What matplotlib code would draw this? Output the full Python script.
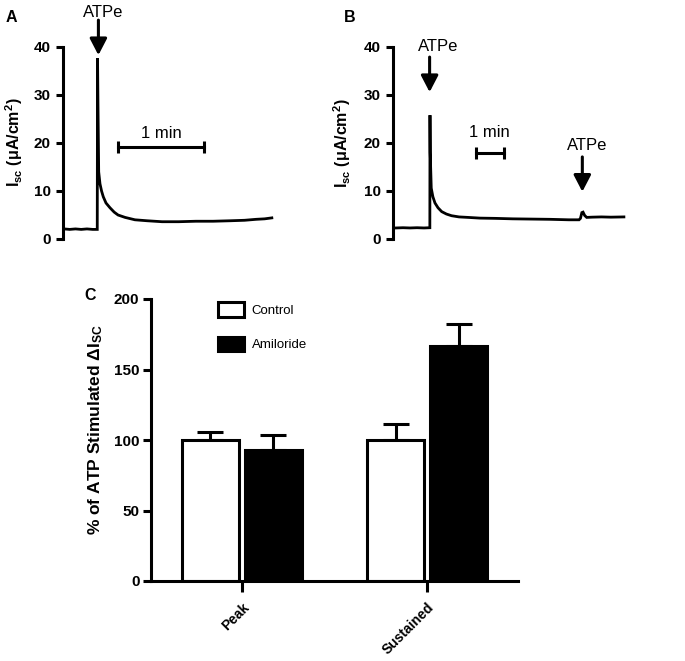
import matplotlib
matplotlib.use('Agg')
import matplotlib.pyplot as plt
from matplotlib.patches import Patch

plt.rcParams['font.family'] = ['Liberation Sans', 'DejaVu Sans']
plt.rcParams['mathtext.fontset'] = 'custom'
plt.rcParams['mathtext.rm'] = 'Liberation Sans:bold'
plt.rcParams['mathtext.bf'] = 'Liberation Sans:bold'
plt.rcParams['mathtext.default'] = 'regular'

# ---------------- data ----------------
# Panel A: Isc trace (time in s, Isc in uA/cm2)
time_a = [0, 4, 8, 12, 16, 20, 23.2, 23.4, 23.7, 24.2, 25.1, 26.2, 27.4, 29.3, 32.1,
          35, 37.7, 42.6, 49.5, 58, 68.4, 80, 92, 104, 116, 126, 134, 140, 145]
isc_a = [2.1, 2.0, 2.1, 2.0, 2.1, 2.0, 2.0, 37.7, 28.0, 14.0, 11.5, 10.0, 8.8, 7.5, 6.5,
         5.6, 5.0, 4.5, 4.0, 3.8, 3.6, 3.6, 3.7, 3.7, 3.8, 3.9, 4.1, 4.2, 4.4]

# Panel B: Isc trace
time_b = [0, 15, 30, 45, 60, 72.5, 72.8, 73.3, 75.5, 79, 83.5, 90, 97.9, 108, 119, 135,
          154, 180, 212, 250, 290, 330, 370, 392, 395, 398, 400.5, 404, 408.4, 420, 440, 460, 488]
isc_b = [2.3, 2.35, 2.3, 2.35, 2.3, 2.35, 25.8, 18.0, 10.6, 8.8, 7.5, 6.5, 5.7, 5.2, 4.85, 4.6,
         4.5, 4.35, 4.3, 4.2, 4.15, 4.1, 4.0, 4.0, 4.3, 5.5, 5.6, 4.9, 4.5, 4.55, 4.6, 4.55, 4.6]

yticks_ab = [0, 10, 20, 30, 40]

# Panel C: bar chart
categories = ['Peak', 'Sustained']
control_mean = [100, 100]
control_sem = [5.7, 11]
amiloride_mean = [93, 167]
amiloride_sem = [10.5, 15.3]
yticks_c = [0, 50, 100, 150, 200]

# ---------------- figure ----------------
W, H = 685, 661
fig = plt.figure(figsize=(6.85, 6.61), dpi=100)

LW = 2.2
TICKFS = 11
TEXTFS = 12

def px_axes(left, top, right, bottom):
    return fig.add_axes([left / W, 1 - bottom / H, (right - left) / W, (bottom - top) / H])

def style_trace_axes(ax):
    for s in ['top', 'right', 'bottom']:
        ax.spines[s].set_visible(False)
    ax.spines['left'].set_linewidth(LW)
    ax.set_xticks([])
    ax.set_ylim(0, 40)
    ax.set_yticks(yticks_ab)
    ax.tick_params(axis='y', length=5.2, width=LW, labelsize=TICKFS, pad=3.5)
    for lab in ax.get_yticklabels():
        lab.set_fontweight('bold')

def arrow(ax, x, y0, y1):
    ax.annotate('', xy=(x, y1), xytext=(x, y0),
                arrowprops=dict(arrowstyle='-|>,head_length=0.5,head_width=0.26',
                                lw=LW, color='black', shrinkA=0, shrinkB=0,
                                mutation_scale=20),
                annotation_clip=False)

def scalebar(ax, x0, x1, y, label, ly):
    ax.plot([x0, x1], [y, y], color='black', lw=LW, marker='|', ms=9, mew=LW,
            clip_on=False)
    ax.text((x0 + x1) / 2, ly, label, ha='center', va='center', fontsize=TEXTFS)

# Panel A
axA = px_axes(63, 47, 280, 239)
axA.plot(time_a, isc_a, color='black', lw=2.0, solid_joinstyle='miter', clip_on=False)
axA.set_xlim(-0.7, 150.7)
style_trace_axes(axA)
axA.set_ylabel('I$_{sc}$ (μA/cm$^{2}$)', fontsize=11.5, fontweight='bold')
axA.yaxis.set_label_coords(-0.175, 0.505)
arrow(axA, 24, 45.6, 38.3)
axA.text(27, 47.2, 'ATPe', ha='center', va='center', fontsize=TEXTFS)
scalebar(axA, 37.7, 97.7, 19.2, '1 min', 22.0)

# Panel B
axB = px_axes(393, 47, 633, 239)
axB.plot(time_b, isc_b, color='black', lw=2.0, solid_joinstyle='miter', clip_on=False)
axB.set_xlim(-6.4, 507.5)
style_trace_axes(axB)
axB.set_ylabel('I$_{sc}$ (μA/cm$^{2}$)', fontsize=11.5, fontweight='bold')
axB.yaxis.set_label_coords(-0.165, 0.5)
arrow(axB, 72, 37.9, 30.6)
axB.text(90, 40.2, 'ATPe', ha='center', va='center', fontsize=TEXTFS)
arrow(axB, 399, 17.1, 9.85)
axB.text(409, 19.4, 'ATPe', ha='center', va='center', fontsize=TEXTFS)
scalebar(axB, 171, 231, 17.9, '1 min', 22.2)

# Panel C
axC = px_axes(151, 299, 518, 581)
x = list(range(len(categories)))
bw = 0.31
off = 0.17
xc = [i - off for i in x]
xa = [i + off for i in x]
axC.errorbar(xc, control_mean, yerr=[[0] * len(x), control_sem], fmt='none',
             ecolor='black', elinewidth=LW, capsize=9.4, capthick=LW, zorder=1)
axC.errorbar(xa, amiloride_mean, yerr=[[0] * len(x), amiloride_sem], fmt='none',
             ecolor='black', elinewidth=LW, capsize=9.4, capthick=LW, zorder=1)
axC.bar(xc, control_mean, width=bw, color='white', edgecolor='black', linewidth=LW,
        zorder=2, label='Control')
axC.bar(xa, amiloride_mean, width=bw, color='black', edgecolor='black', linewidth=LW,
        zorder=2, label='Amiloride')
axC.set_xlim(-0.49, 1.49)
axC.set_ylim(0, 200)
axC.set_yticks(yticks_c)
axC.set_xticks(x)
axC.set_xticklabels(categories, rotation=45, ha='right', rotation_mode='anchor',
                    fontweight='bold', fontsize=10)
for lab in axC.get_yticklabels():
    lab.set_fontweight('bold')
axC.tick_params(axis='y', length=5.8, width=LW, labelsize=TICKFS, pad=2.5)
axC.tick_params(axis='x', length=8, width=LW, pad=6)
for s in ['top', 'right']:
    axC.spines[s].set_visible(False)
for s in ['left', 'bottom']:
    axC.spines[s].set_linewidth(LW)
axC.set_ylabel('% of ATP Stimulated ΔI$_{SC}$', fontsize=12.5, fontweight='bold')
axC.yaxis.set_label_coords(-0.125, 0.535)

handles = [Patch(facecolor='white', edgecolor='black', linewidth=LW),
           Patch(facecolor='black', edgecolor='black', linewidth=LW)]
axC.legend(handles, ['Control', 'Amiloride'], loc='upper left',
           bbox_to_anchor=(218 / W, 1 - 302 / H), bbox_transform=fig.transFigure,
           frameon=False, fontsize=9.5, handlelength=2.0, handleheight=1.35,
           labelspacing=1.5, handletextpad=0.55, borderpad=0, borderaxespad=0)

# Panel letters
fig.text(11 / W, 1 - 18 / H, 'A', fontsize=11.5, fontweight='bold', ha='center', va='center')
fig.text(350 / W, 1 - 18 / H, 'B', fontsize=11.5, fontweight='bold', ha='center', va='center')
fig.text(90 / W, 1 - 296 / H, 'C', fontsize=11.5, fontweight='bold', ha='center', va='center')

fig.savefig('out.png', dpi=100)
